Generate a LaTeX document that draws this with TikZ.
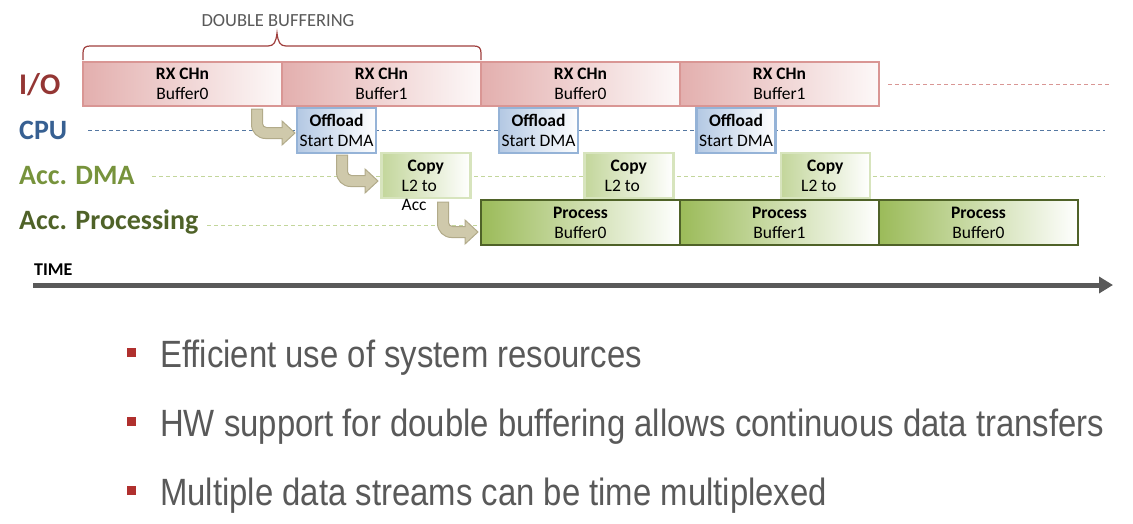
\documentclass[tikz,border=0pt]{standalone}
\usepackage{fontspec}
\setmainfont{Carlito}
\newfontfamily\narrowfont[FakeStretch=0.865]{Liberation Sans}
\usetikzlibrary{arrows.meta,calc}
\definecolor{iofill}{HTML}{E3AFAE}
\definecolor{ioedge}{HTML}{D99694}
\definecolor{iotext}{HTML}{943634}
\definecolor{cpufill}{HTML}{B3C8E3}
\definecolor{cpuedge}{HTML}{95B3D7}
\definecolor{cputext}{HTML}{376092}
\definecolor{dmafill}{HTML}{C3D69B}
\definecolor{dmaedge}{HTML}{D7E4BD}
\definecolor{dmatext}{HTML}{77933C}
\definecolor{procfill}{HTML}{9BBB59}
\definecolor{procedge}{HTML}{4F6228}
\definecolor{proctext}{HTML}{4F6228}
\definecolor{tanfill}{HTML}{CFC9AB}
\definecolor{tanedge}{HTML}{B2AB8A}
\definecolor{greytext}{HTML}{595959}
\definecolor{bulletred}{HTML}{B0302E}
\definecolor{bracered}{HTML}{A0403E}
\newcommand{\bentarrow}[2]{%
  \filldraw[bentstyle] let \p1=(#1), \p2=(#2) in
    (\x1-5.5pt,\y1) [rounded corners=14pt] -- (\x1-5.5pt,\y2-5.5pt) [sharp corners]
    -- (\x2-13pt,\y2-5.5pt) -- (\x2-13pt,\y2-12pt) -- (\x2,\y2)
    -- (\x2-13pt,\y2+12pt) -- (\x2-13pt,\y2+5.5pt) [rounded corners=4pt]
    -- (\x1+5.5pt,\y2+5.5pt) [sharp corners] -- (\x1+5.5pt,\y1) -- cycle;}
\begin{document}
\begin{tikzpicture}[x=1pt,y=-1pt,
  boxbase/.style={inner sep=0pt, outer sep=0pt, align=center, line width=2.5pt,
    font=\fontsize{17.5}{20}\selectfont},
  iobox/.style={boxbase, draw=ioedge, left color=iofill, right color=iofill!8, minimum width=199pt, minimum height=44pt},
  cpubox/.style={boxbase, draw=cpuedge, left color=cpufill, right color=white, minimum width=79pt, minimum height=45pt},
  dmabox/.style={boxbase, draw=dmaedge, left color=dmafill, right color=white, minimum width=89pt, minimum height=45pt},
  procbox/.style={boxbase, draw=procedge, left color=procfill, right color=white, minimum width=199pt, minimum height=45pt},
  dmatxt/.style={anchor=north west, inner sep=0pt, align=left, font=\fontsize{17.5}{19.5}\selectfont},
  rowlabel/.style={anchor=west, inner sep=0pt, font=\fontsize{28}{30}\selectfont\bfseries},
  rowdash/.style={line width=1pt, dash pattern=on 4pt off 3pt},
  bentstyle/.style={fill=tanfill, draw=tanedge, line width=1pt},
  bullet/.style={fill=bulletred, minimum size=9pt, inner sep=0pt},
  btext/.style={anchor=base west, inner sep=0pt, text=greytext, font=\narrowfont\fontsize{38}{40}\selectfont}
]
\useasboundingbox[fill=white] (0,0) rectangle (1133,523);

% row labels
\node[rowlabel, text=iotext, font=\fontsize{30}{32}\selectfont\bfseries] (lio) at (19,85) {I/O};
\node[rowlabel, text=cputext] (lcpu) at (19,130) {CPU};
\node[rowlabel, text=dmatext] (ldma) at (19,176) {Acc. DMA};
\node[rowlabel, text=proctext] (lproc) at (19,222) {Acc. Processing};

% dashed guide lines
\coordinate (dio0) at (888,84);  \coordinate (dio1) at (1110,84);
\coordinate (dcpu0) at (88,130); \coordinate (dcpu1) at (1105,130);
\coordinate (ddma0) at (152,176); \coordinate (ddma1) at (1105,176);
\coordinate (dpr0) at (207,225); \coordinate (dpr1) at (480,225);
\draw[rowdash, ioedge] (dio0) -- (dio1);
\draw[rowdash, cputext!85] (dcpu0) -- (dcpu1);
\draw[rowdash, dmafill] (ddma0) -- (ddma1);
\draw[rowdash, dmafill] (dpr0) -- (dpr1);

% brace
\node[text=greytext, font=\fontsize{18.5}{20}\selectfont, inner sep=0pt] (dbl) at (278,21) {DOUBLE BUFFERING};
\coordinate (brL) at (83,60); \coordinate (brR) at (481,60);
\draw[bracered, line width=1.2pt] (brL) -- (83,53) .. controls (83,48) and (85,46) .. (90,46) -- (268,46)
  .. controls (274,46) and (276,42) .. (277,33) .. controls (278,42) and (280,46) .. (286,46)
  -- (474,46) .. controls (479,46) and (481,48) .. (481,53) -- (brR);

% I/O boxes
\node[iobox] (io1) at (182.5,84) {\textbf{RX CHn}\\Buffer0};
\node[iobox] (io2) at (381.5,84) {\textbf{RX CHn}\\Buffer1};
\node[iobox] (io3) at (580.5,84) {\textbf{RX CHn}\\Buffer0};
\node[iobox] (io4) at (779.5,84) {\textbf{RX CHn}\\Buffer1};

% CPU boxes
\node[cpubox] (cpu1) at (336.5,130.5) {\textbf{Offload}\\Start DMA};
\node[cpubox] (cpu2) at (538.5,130.5) {\textbf{Offload}\\Start DMA};
\node[cpubox] (cpu3) at (736,130.5) {\textbf{Offload}\\Start DMA};

% DMA boxes
\node[dmabox] (dma1) at (426,175.5) {};
\node[dmabox] (dma2) at (629,175.5) {};
\node[dmabox] (dma3) at (825.5,175.5) {};
\node[dmatxt] (dma1t) at ([xshift=20pt,yshift=-7pt]dma1.north west) {\hspace*{6pt}\textbf{Copy}\\L2 to\\Acc};
\node[dmatxt] (dma2t) at ([xshift=20pt,yshift=-7pt]dma2.north west) {\hspace*{6pt}\textbf{Copy}\\L2 to};
\node[dmatxt] (dma3t) at ([xshift=20pt,yshift=-7pt]dma3.north west) {\hspace*{6pt}\textbf{Copy}\\L2 to};

% processing boxes
\node[procbox] (pr1) at (580.5,222.5) {\textbf{Process}\\Buffer0};
\node[procbox] (pr2) at (779.5,222.5) {\textbf{Process}\\Buffer1};
\node[procbox] (pr3) at (978.5,222.5) {\textbf{Process}\\Buffer0};

% bent arrows
\coordinate (a1s) at (257,109); \coordinate (a1t) at (295,133);
\coordinate (a2s) at (342,155); \coordinate (a2t) at (378,181);
\coordinate (a3s) at (443,202); \coordinate (a3t) at (478,232);
\bentarrow{a1s}{a1t}
\bentarrow{a2s}{a2t}
\bentarrow{a3s}{a3t}

% time axis
\node[anchor=west, inner sep=0pt, font=\fontsize{18}{20}\selectfont\bfseries] (time) at (34,270) {TIME};
\coordinate (t0) at (33,285); \coordinate (t1) at (1113,285);
\draw[greytext, line width=5pt, -{Triangle[length=14pt,width=16pt]}] (t0) -- (t1);

% bullets
\node[bullet] (b1) at (131,352) {};
\node[bullet] (b2) at (131,421) {};
\node[bullet] (b3) at (131,490) {};
\node[btext] (t1t) at (160,367) {Efficient use of system resources};
\node[btext] (t2t) at (160,436) {HW support for double buffering allows continuous data transfers};
\node[btext] (t3t) at (160,505) {Multiple data streams can be time multiplexed};
\end{tikzpicture}
\end{document}
